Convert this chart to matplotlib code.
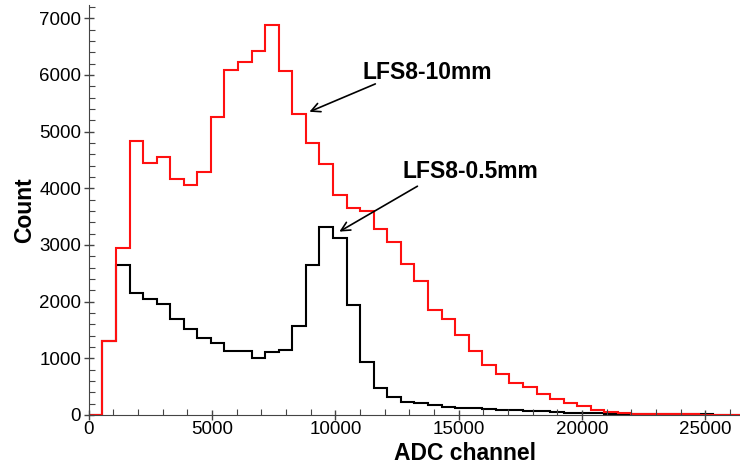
import numpy as np
import matplotlib.pyplot as plt
from matplotlib.ticker import MultipleLocator

plt.rcParams['font.family'] = ['Liberation Sans', 'DejaVu Sans']

# Histogram binning (ADC channels)
BIN_WIDTH = 550
N_BINS = 48
edges = np.arange(N_BINS + 1) * BIN_WIDTH

# Counts per bin
counts_10mm = [0, 1300, 2950, 4840, 4450, 4550, 4160, 4050, 4280, 5260,
               6090, 6230, 6430, 6880, 6060, 5310, 4800, 4430, 3880, 3650,
               3590, 3280, 3050, 2665, 2370, 1850, 1690, 1410, 1135, 880,
               720, 570, 490, 370, 280, 205, 150, 90, 50, 30,
               20, 15, 10, 15, 10, 5, 5, 5]
counts_05mm = [0, 1300, 2640, 2150, 2040, 1950, 1690, 1520, 1360, 1260,
               1130, 1130, 1000, 1110, 1150, 1565, 2640, 3320, 3120, 1940,
               930, 475, 310, 235, 205, 175, 145, 130, 118, 112,
               88, 88, 76, 60, 53, 41, 30, 25, 22, 20,
               18, 15, 13, 12, 10, 8, 6, 5]

# Labels: (text, text pos, arrow tail, arrow head)
labels = [
    ("LFS8-10mm", (11100, 6050), (11720, 5860), (8840, 5330)),
    ("LFS8-0.5mm", (12730, 4290), (13420, 4060), (10060, 3210)),
]

fig = plt.figure(figsize=(7.4, 4.72), dpi=100)
ax = fig.add_axes([0.120, 0.121, 0.880, 0.868])

ax.stairs(counts_05mm, edges, color='black', lw=1.5)
ax.stairs(counts_10mm, edges, color='#ff1010', lw=1.5)

for text, tpos, tail, head in labels:
    ax.text(tpos[0], tpos[1], text, fontsize=16.5, fontweight='bold',
            ha='left', va='center')
    ax.annotate('', xy=head, xytext=tail,
                arrowprops=dict(arrowstyle='->', color='black', lw=1.2,
                                mutation_scale=16))

ax.set_xlim(0, N_BINS * BIN_WIDTH)
ax.set_ylim(0, 7230)

ax.xaxis.set_major_locator(MultipleLocator(5000))
ax.xaxis.set_minor_locator(MultipleLocator(1000))
ax.yaxis.set_major_locator(MultipleLocator(1000))
ax.yaxis.set_minor_locator(MultipleLocator(200))
ax.tick_params(which='major', direction='inout', length=7, width=1,
               color='#444444', labelsize=13.5)
ax.tick_params(axis='y', which='major', pad=2)
ax.tick_params(axis='x', which='major', pad=1)
ax.tick_params(which='minor', direction='in', length=4, width=0.8,
               color='#444444')

for side in ['top', 'right']:
    ax.spines[side].set_visible(False)
for side in ['left', 'bottom']:
    ax.spines[side].set_color('#444444')

ax.set_xlabel("ADC channel", fontsize=16.5, fontweight='bold')
ax.set_ylabel("Count", fontsize=16.5, fontweight='bold')
ax.xaxis.set_label_coords(0.578, -0.066)
ax.yaxis.set_label_coords(-0.081, 0.5)

plt.savefig("out.png", dpi=100)
